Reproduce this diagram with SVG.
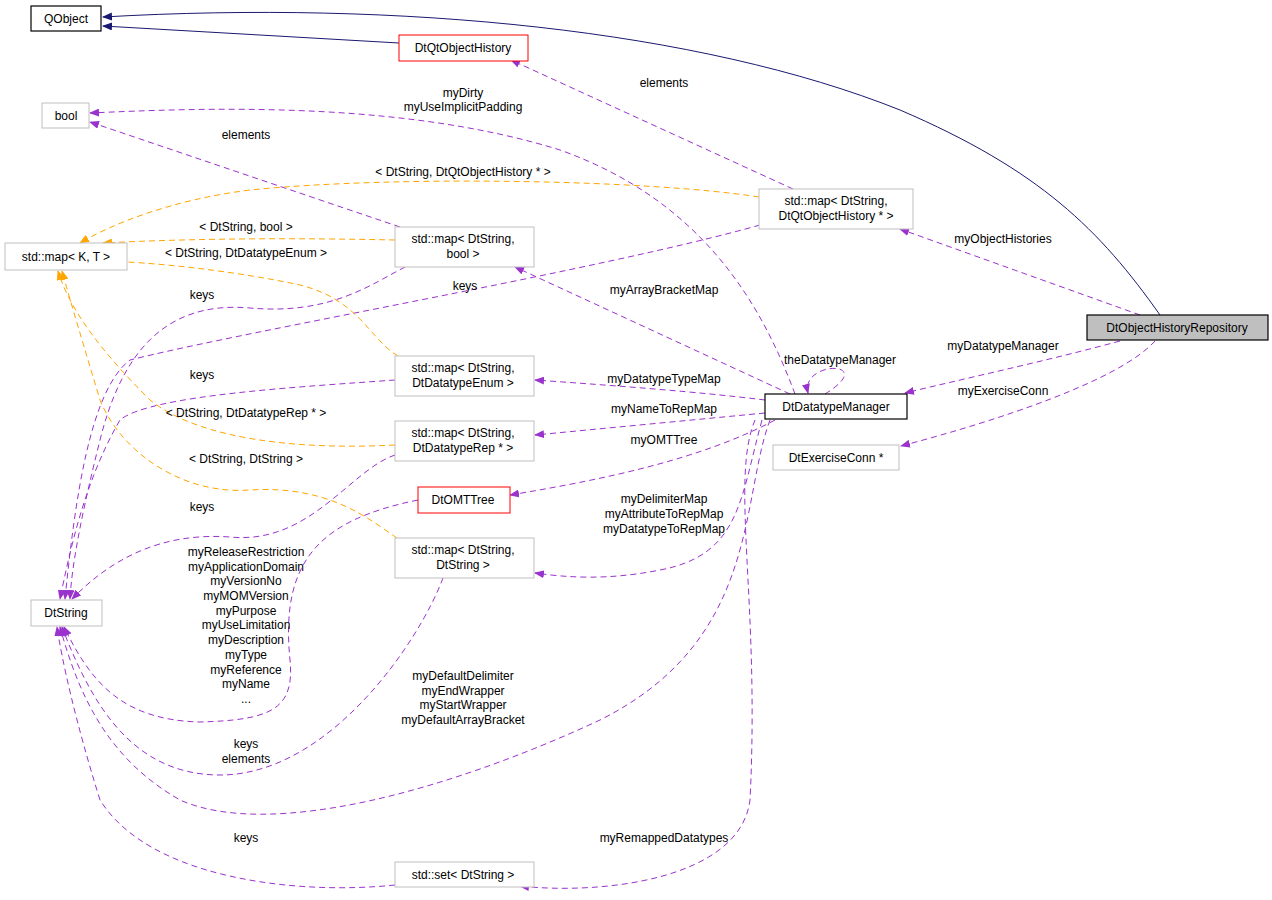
<svg xmlns="http://www.w3.org/2000/svg" width="1272" height="900" viewBox="0 0 1272 900">
<style>
text{font-family:"Liberation Sans",Arial,sans-serif;font-size:12px;text-anchor:middle;fill:#000}
.n{fill:#fff;stroke:#bfbfbf;stroke-width:1}
.r{fill:#fff;stroke:#ff0000;stroke-width:1}
.b{fill:#fff;stroke:#000;stroke-width:1.2}
.p{fill:none;stroke:#9a32cd;stroke-dasharray:6,4}
.o{fill:none;stroke:#ffa500;stroke-dasharray:6,4}
.s{fill:none;stroke:#191970}
</style>
<defs>
<marker id="mp" markerWidth="10" markerHeight="8" refX="9" refY="4" orient="auto" markerUnits="userSpaceOnUse"><path d="M0,0L10,4L0,8z" fill="#9a32cd"/></marker>
<marker id="mo" markerWidth="10" markerHeight="8" refX="9" refY="4" orient="auto" markerUnits="userSpaceOnUse"><path d="M0,0L10,4L0,8z" fill="#ffa500"/></marker>
<marker id="ms" markerWidth="10" markerHeight="8" refX="9" refY="4" orient="auto" markerUnits="userSpaceOnUse"><path d="M0,0L10,4L0,8z" fill="#191970"/></marker>
</defs>
<rect width="1272" height="900" fill="#fff"/>
<g id="connectors">
<path class="s" marker-end="url(#ms)" d="M1160,315 C1100,230 1040,170 900,110 C700,30 400,0 103,17"/>
<path class="s" marker-end="url(#ms)" d="M399,43 L103,26"/>
<path class="p" marker-end="url(#mp)" d="M793,189 L511,60"/>
<text x="664" y="87">elements</text>
<path class="p" marker-end="url(#mp)" d="M1140,315 L900,229"/>
<text x="1003" y="243">myObjectHistories</text>
<path class="p" marker-end="url(#mp)" d="M1120,341 C1050,360 980,375 905,393"/>
<text x="1003" y="350">myDatatypeManager</text>
<path class="p" marker-end="url(#mp)" d="M1155,341 C1120,380 1000,420 901,446"/>
<text x="1003" y="395">myExerciseConn</text>
<path class="p" marker-end="url(#mp)" d="M825,394 C880,360 800,360 808,393"/>
<text x="840" y="364">theDatatypeManager</text>
<path class="p" marker-end="url(#mp)" d="M795,394 C760,300 700,200 560,150 C400,100 200,108 90,113"/>
<text x="463" y="97">myDirty</text><text x="463" y="111">myUseImplicitPadding</text>
<path class="p" marker-end="url(#mp)" d="M400,227 L90,122"/>
<text x="246" y="139">elements</text>
<path class="p" marker-end="url(#mp)" d="M790,394 L515,267"/>
<text x="664" y="294">myArrayBracketMap</text>
<path class="p" marker-end="url(#mp)" d="M765,400 C700,392 620,386 535,380"/>
<text x="664" y="383">myDatatypeTypeMap</text>
<path class="p" marker-end="url(#mp)" d="M765,413 L535,435"/>
<text x="664" y="413">myNameToRepMap</text>
<path class="p" marker-end="url(#mp)" d="M775,420 C700,460 600,480 510,495"/>
<text x="664" y="444">myOMTTree</text>
<path class="p" marker-end="url(#mp)" d="M762,420 C740,500 740,555 660,570 C610,580 570,578 535,573"/>
<text x="664" y="503">myDelimiterMap</text><text x="664" y="518">myAttributeToRepMap</text><text x="664" y="533">myDatatypeToRepMap</text>
<path class="p" marker-end="url(#mp)" d="M755,420 C730,480 760,600 750,800 C740,880 600,895 520,886"/>
<text x="664" y="842">myRemappedDatatypes</text>
<path class="p" marker-end="url(#mp)" d="M405,267 C370,285 330,315 250,308 C160,300 120,360 100,440 C85,500 72,560 70,599"/>
<text x="202" y="299">keys</text>
<path class="p" marker-end="url(#mp)" d="M760,225 C600,270 250,330 130,360 C90,390 75,500 65,599"/>
<text x="465" y="290">keys</text>
<path class="p" marker-end="url(#mp)" d="M395,380 C300,387 150,395 120,420 C85,480 70,550 60,599"/>
<text x="202" y="379">keys</text>
<path class="p" marker-end="url(#mp)" d="M395,455 C350,470 310,545 230,537 C160,532 110,560 72,599"/>
<text x="202" y="511">keys</text>
<path class="p" marker-end="url(#mp)" d="M418,500 C320,520 280,560 290,660 C295,710 270,720 200,722 C120,720 90,680 64,627"/>
<text x="246" y="556">myReleaseRestriction</text><text x="246" y="571">myApplicationDomain</text><text x="246" y="585">myVersionNo</text><text x="246" y="600">myMOMVersion</text><text x="246" y="615">myPurpose</text><text x="246" y="629">myUseLimitation</text><text x="246" y="644">myDescription</text><text x="246" y="659">myType</text><text x="246" y="674">myReference</text><text x="246" y="688">myName</text><text x="246" y="703">...</text>
<path class="p" marker-end="url(#mp)" d="M443,578 C420,640 330,775 220,775 C130,775 90,700 62,627"/>
<text x="246" y="748">keys</text><text x="246" y="763">elements</text>
<path class="p" marker-end="url(#mp)" d="M770,420 C740,500 760,640 600,720 C450,790 270,840 180,800 C110,760 80,700 60,627"/>
<text x="463" y="680">myDefaultDelimiter</text><text x="463" y="695">myEndWrapper</text><text x="463" y="709">myStartWrapper</text><text x="463" y="724">myDefaultArrayBracket</text>
<path class="p" marker-end="url(#mp)" d="M395,885 C300,895 150,880 100,800 C75,720 62,660 57,627"/>
<text x="246" y="842">keys</text>
<path class="o" marker-end="url(#mo)" d="M759,197 C650,180 400,175 250,190 C170,200 110,225 80,243"/>
<text x="463" y="176">&lt; DtString, DtQtObjectHistory * &gt;</text>
<path class="o" marker-end="url(#mo)" d="M395,240 C300,238 200,238 103,243"/>
<text x="246" y="231">&lt; DtString, bool &gt;</text>
<path class="o" marker-end="url(#mo)" d="M398,356 C370,340 360,300 300,285 C230,270 150,262 103,261"/>
<text x="246" y="257">&lt; DtString, DtDatatypeEnum &gt;</text>
<path class="o" marker-end="url(#mo)" d="M395,445 C300,450 200,440 150,400 C100,350 70,310 58,271"/>
<text x="246" y="417">&lt; DtString, DtDatatypeRep * &gt;</text>
<path class="o" marker-end="url(#mo)" d="M397,538 C370,520 330,485 250,490 C180,495 120,450 100,400 C85,350 70,300 62,271"/>
<text x="246" y="463">&lt; DtString, DtString &gt;</text>
</g>
<g id="QObject"><rect class="b" x="31" y="6" width="70" height="25"/><text x="66" y="23">QObject</text></g>
<g id="DtQtObjectHistory"><rect class="r" x="399" y="35" width="129" height="26"/><text x="463" y="52">DtQtObjectHistory</text></g>
<g id="bool"><rect class="n" x="42" y="103" width="47" height="25"/><text x="66" y="120">bool</text></g>
<g id="stdmapKT"><rect class="n" x="5" y="243" width="122" height="27"/><text x="66" y="261">std::map&lt; K, T &gt;</text></g>
<g id="DtString"><rect class="n" x="31" y="600" width="71" height="26"/><text x="66" y="617">DtString</text></g>
<g id="mapBool"><rect class="n" x="395" y="227" width="139" height="40"/><text x="463" y="243">std::map&lt; DtString,</text><text x="463" y="258">bool &gt;</text></g>
<g id="mapQtObjHist"><rect class="n" x="759" y="189" width="154" height="40"/><text x="836" y="205">std::map&lt; DtString,</text><text x="836" y="220">DtQtObjectHistory * &gt;</text></g>
<g id="mapEnum"><rect class="n" x="395" y="356" width="139" height="40"/><text x="463" y="372">std::map&lt; DtString,</text><text x="463" y="387">DtDatatypeEnum &gt;</text></g>
<g id="mapRep"><rect class="n" x="395" y="421" width="139" height="40"/><text x="463" y="437">std::map&lt; DtString,</text><text x="463" y="452">DtDatatypeRep * &gt;</text></g>
<g id="DtOMTTree"><rect class="r" x="418" y="487" width="92" height="26"/><text x="463" y="504">DtOMTTree</text></g>
<g id="mapString"><rect class="n" x="395" y="538" width="139" height="40"/><text x="463" y="554">std::map&lt; DtString,</text><text x="463" y="569">DtString &gt;</text></g>
<g id="setString"><rect class="n" x="395" y="862" width="139" height="25"/><text x="463" y="879">std::set&lt; DtString &gt;</text></g>
<g id="DtDatatypeManager"><rect class="b" x="765" y="394" width="142" height="25"/><text x="836" y="411">DtDatatypeManager</text></g>
<g id="DtExerciseConn"><rect class="n" x="773" y="445" width="126" height="25"/><text x="836" y="462">DtExerciseConn *</text></g>
<g id="DtObjectHistoryRepository"><rect x="1087" y="315" width="181" height="25" fill="#bfbfbf" stroke="#000" stroke-width="1.2"/><text x="1177" y="332">DtObjectHistoryRepository</text></g>
</svg>
